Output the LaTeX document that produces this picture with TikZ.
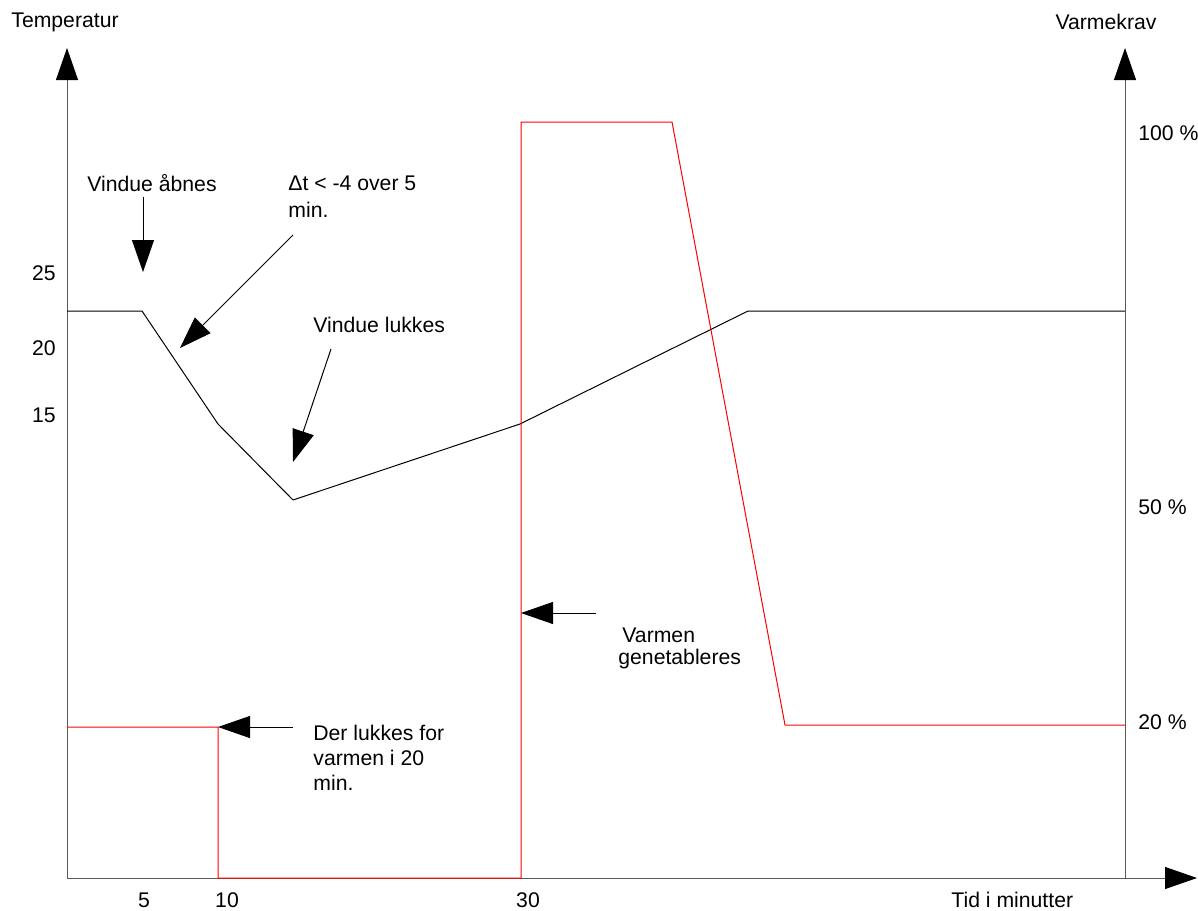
\documentclass[tikz,border=0pt]{standalone}
\usepackage{fontspec}
\setmainfont{Liberation Sans}
\usetikzlibrary{arrows.meta}
\begin{document}
\begin{tikzpicture}[x=0.5pt,y=-0.5pt,
  every node/.style={inner sep=0pt, font=\fontsize{10.6}{12.5}\selectfont},
  axis/.style={draw=black!65, line width=0.5pt, -{Triangle[length=16pt,width=11pt,color=black]}},
  callout/.style={draw=black, line width=0.5pt, -{Triangle[length=16pt,width=11pt]}},
  temp/.style={draw=black, line width=0.5pt, line join=round},
  demand/.style={draw=red, line width=0.5pt},
  lbl/.style={anchor=west},
  num/.style={anchor=east}]
\useasboundingbox (0,0) rectangle (1198,910);
% axes
\coordinate (O) at (67,878);
\coordinate (Ytop) at (67,48);
\coordinate (Xend) at (1197,878);
\coordinate (R0) at (1125,878);
\coordinate (Rtop) at (1125,48);
\draw[axis] (O) -- (Ytop);
\draw[axis] (O) -- (Xend);
\draw[axis] (R0) -- (Rtop);
% axis titles
\node (ytitle) at (65,22) {Temperatur};
\node (rtitle) at (1106,22) {Varmekrav};
\node[anchor=west] (xtitle) at (951,900) {Tid i minutter};
% left ticks
\node[num] (t25) at (56,273) {25};
\node[num] (t20) at (56,348) {20};
\node[num] (t15) at (56,415) {15};
% right ticks
\node[lbl] (p100) at (1138,133) {100 \%};
\node[lbl] (p50) at (1138,507) {50 \%};
\node[lbl] (p20) at (1138,722) {20 \%};
% bottom ticks
\node (m5) at (144,900) {5};
\node (m10) at (227,900) {10};
\node (m30) at (528,900) {30};
% temperature curve
\draw[temp] (67,311) -- (142,311) -- (218,424) -- (293,500) -- (520,424) -- (748,311) -- (1125,311);
% heat demand curve
\draw[demand] (67,727) -- (218,727) -- (218,878) -- (521,878) -- (521,122) -- (672,122) -- (785,725) -- (1125,725);
% callouts
\node[lbl] (aab) at (87,183) {Vindue åbnes};
\coordinate (aabS) at (143,197);
\coordinate (aabT) at (143,272);
\draw[callout] (aabS) -- (aabT);

\node[lbl] (dt1) at (288,183) {Δt < -4 over 5};
\node[lbl] (dt2) at (288,210) {min.};
\coordinate (dtS) at (293,235);
\coordinate (dtT) at (180,348);
\draw[callout] (dtS) -- (dtT);

\node[lbl] (luk) at (313,325) {Vindue lukkes};
\coordinate (lukS) at (331,349);
\coordinate (lukT) at (293,462);
\draw[callout] (lukS) -- (lukT);

\node[lbl] (var1) at (622,635) {Varmen};
\node[lbl] (var2) at (618,659) {genetableres};
\coordinate (varS) at (596,613);
\coordinate (varT) at (521,613);
\draw[callout] (varS) -- (varT);

\node[lbl] (der1) at (313,733) {Der lukkes for};
\node[lbl] (der2) at (313,758) {varmen i 20};
\node[lbl] (der3) at (313,783) {min.};
\coordinate (derS) at (293,727);
\coordinate (derT) at (218,727);
\draw[callout] (derS) -- (derT);
\end{tikzpicture}
\end{document}
